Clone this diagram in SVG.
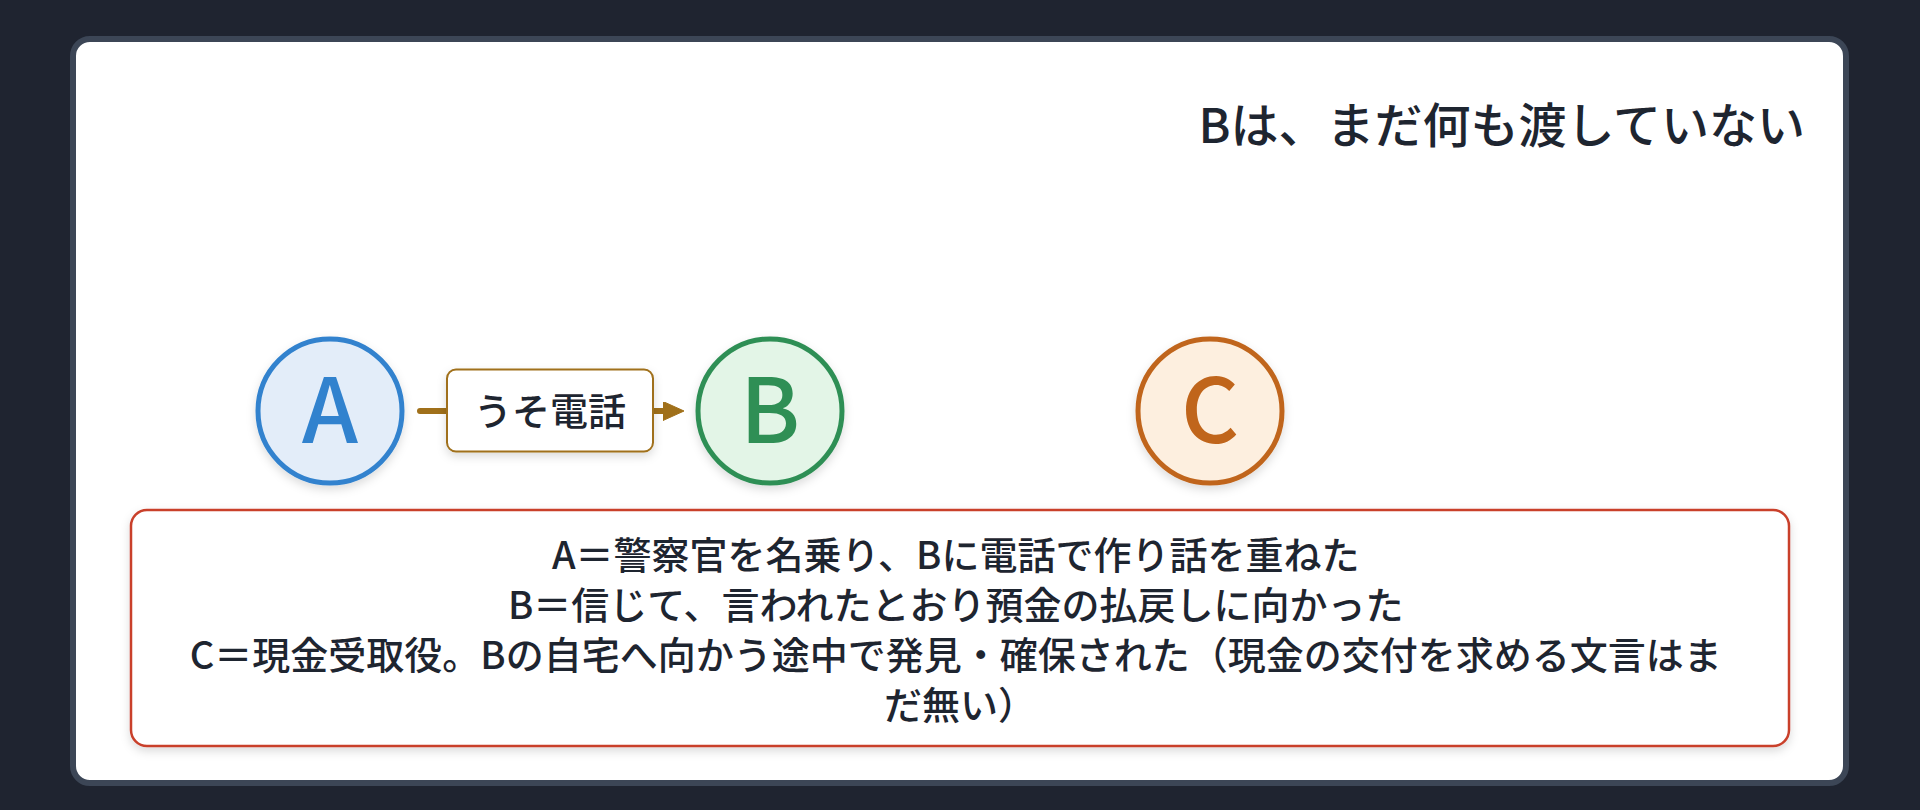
<svg xmlns="http://www.w3.org/2000/svg" width="1920" height="810" viewBox="0 0 1920 810">
  <style>
    .t { font-family: "Noto Sans CJK JP", "Noto Sans", sans-serif; font-weight: 500; fill: #1e2530; }
    .letter { font-family: "Noto Sans CJK JP", "Noto Sans", sans-serif; font-weight: 500; font-size: 90px; text-anchor: middle; }
    .node { stroke-width: 5; }
  </style>
  <defs>
    <filter id="sh" x="-30%" y="-30%" width="160%" height="170%">
      <feDropShadow dx="0" dy="4" stdDeviation="5" flood-color="#000000" flood-opacity="0.14"/>
    </filter>
    <marker id="arr" markerUnits="userSpaceOnUse" markerWidth="22" markerHeight="20" refX="7" refY="9.5" orient="auto">
      <path d="M0,0 L21,9.5 L0,19 Z" fill="#a0701a" stroke="#a0701a" stroke-width="1" stroke-linejoin="round"/>
    </marker>
  </defs>

  <rect x="0" y="0" width="1920" height="810" fill="#1f2430"/>
  <rect id="card" x="73" y="39" width="1773" height="744" rx="17" fill="#ffffff" stroke="#3c4656" stroke-width="6"/>

  <text id="title" class="t" x="1805" y="143" font-size="48" text-anchor="end">Bは、まだ何も渡していない</text>

  <g id="connectors">
    <path d="M420,411 L670,411" fill="none" stroke="#a0701a" stroke-width="6" stroke-linecap="round" marker-end="url(#arr)"/>
  </g>

  <g id="label-usodenwa">
    <rect x="447" y="369.5" width="206" height="82" rx="9" fill="#ffffff" stroke="#a0701a" stroke-width="2" filter="url(#sh)"/>
    <text class="t" x="550" y="425" font-size="38" text-anchor="middle">うそ電話</text>
  </g>

  <g id="node-A">
    <circle class="node" cx="330" cy="411" r="72" fill="#e3edf9" stroke="#3182ce" filter="url(#sh)"/>
    <text class="letter" x="330" y="443" fill="#3182ce">A</text>
  </g>

  <g id="node-B">
    <circle class="node" cx="770" cy="411" r="72" fill="#e3f5e7" stroke="#2f8f55" filter="url(#sh)"/>
    <text class="letter" x="770" y="443" fill="#2f8f55">B</text>
  </g>

  <g id="node-C">
    <circle class="node" cx="1210" cy="411" r="72" fill="#fdefdf" stroke="#c0651b" filter="url(#sh)"/>
    <text class="letter" x="1210" y="443" fill="#c0651b">C</text>
  </g>

  <g id="note">
    <rect x="131" y="510" width="1658" height="236" rx="16" fill="#ffffff" stroke="#c9402c" stroke-width="2.5" filter="url(#sh)"/>
    <text class="t" font-size="38" text-anchor="middle">
      <tspan x="960" y="569">A＝警察官を名乗り、Bに電話で作り話を重ねた</tspan>
      <tspan x="960" y="619">B＝信じて、言われたとおり預金の払戻しに向かった</tspan>
      <tspan x="960" y="669">C＝現金受取役。Bの自宅へ向かう途中で発見・確保された（現金の交付を求める文言はま</tspan>
      <tspan x="960" y="719">だ無い）</tspan>
    </text>
  </g>
</svg>
